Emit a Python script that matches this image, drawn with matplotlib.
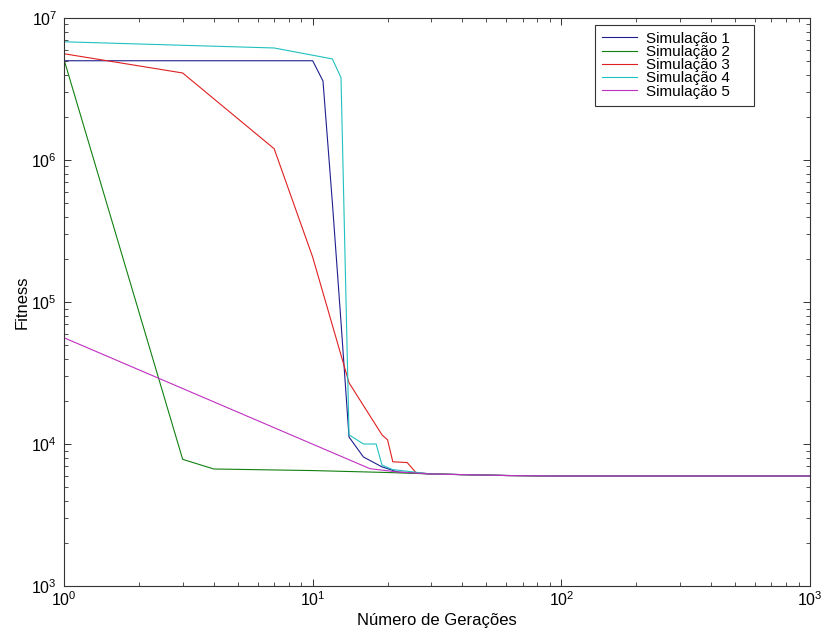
import matplotlib
matplotlib.use('Agg')
import matplotlib.pyplot as plt
from matplotlib.ticker import LogLocator, NullFormatter

plt.rcParams['font.family'] = ['Liberation Sans', 'DejaVu Sans']
plt.rcParams['mathtext.fontset'] = 'custom'
plt.rcParams['mathtext.rm'] = 'Liberation Sans'

# dados (geracao, fitness)
sim1_x = [1, 10, 11, 12, 13, 14, 16, 19, 22, 30, 60, 100, 1000]
sim1_y = [5.0e6, 5.0e6, 3.6e6, 5.0e5, 7.2e4, 1.12e4, 8.1e3, 6.9e3, 6.35e3, 6.15e3, 6.0e3, 5.95e3, 5.95e3]

sim2_x = [1, 3, 4, 10, 20, 30, 60, 100, 1000]
sim2_y = [5.1e6, 7.8e3, 6.67e3, 6.5e3, 6.3e3, 6.15e3, 6.0e3, 5.95e3, 5.95e3]

sim3_x = [1, 3, 7, 10, 14, 19, 20, 21, 24, 26, 30, 60, 100, 1000]
sim3_y = [5.6e6, 4.1e6, 1.2e6, 2.07e5, 2.7e4, 1.16e4, 1.07e4, 7.5e3, 7.4e3, 6.3e3, 6.15e3, 6.0e3, 5.95e3, 5.95e3]

sim4_x = [1, 7, 12, 13, 14, 16, 18, 19, 21, 30, 60, 100, 1000]
sim4_y = [6.8e6, 6.15e6, 5.15e6, 3.8e6, 1.16e4, 1.0e4, 1.0e4, 7.1e3, 6.6e3, 6.15e3, 6.0e3, 5.95e3, 5.95e3]

sim5_x = [1, 17, 22, 30, 60, 100, 1000]
sim5_y = [5.6e4, 6.7e3, 6.35e3, 6.15e3, 6.0e3, 5.95e3, 5.95e3]

series = [(sim1_x, sim1_y, 'Simulação 1', '#1f1f8f'),
          (sim2_x, sim2_y, 'Simulação 2', '#118011'),
          (sim3_x, sim3_y, 'Simulação 3', '#e02020'),
          (sim4_x, sim4_y, 'Simulação 4', '#20c0c0'),
          (sim5_x, sim5_y, 'Simulação 5', '#c030c0')]

fig = plt.figure(figsize=(8.23, 6.36), dpi=100)
ax = fig.add_axes([0.0778, 0.0786, 0.9064, 0.8931])

for xs, ys, lab, c in series:
    ax.plot(xs, ys, color=c, lw=0.8, label=lab + '    ')

ax.set_xscale('log')
ax.set_yscale('log')
ax.set_xlim(1, 1000)
ax.set_ylim(1e3, 1e7)

ax.xaxis.set_minor_locator(LogLocator(base=10, subs=range(2, 10)))
ax.yaxis.set_minor_locator(LogLocator(base=10, subs=range(2, 10)))
ax.xaxis.set_minor_formatter(NullFormatter())
ax.yaxis.set_minor_formatter(NullFormatter())

ax.tick_params(which='both', direction='in', top=True, right=True, labelsize=11.5, color='#333333')
ax.tick_params(which='major', length=5, width=0.7, pad=5)
ax.tick_params(which='minor', length=3, width=0.6)
ax.tick_params(axis='x', which='major', pad=3)
for s in ax.spines.values():
    s.set_linewidth(0.8)
    s.set_color('#333333')

ax.set_xlabel('Número de Gerações', fontsize=12, labelpad=3)
ax.set_ylabel('Fitness', fontsize=12, labelpad=1)

leg = ax.legend(loc='upper right', bbox_to_anchor=(0.925, 0.988), borderaxespad=0,
                fontsize=11, handlelength=2.3, handletextpad=0.6, labelspacing=-0.05,
                fancybox=False, framealpha=1, edgecolor='#333333', borderpad=0.45)
leg.get_frame().set_linewidth(0.8)

fig.savefig('out.png', dpi=100)
